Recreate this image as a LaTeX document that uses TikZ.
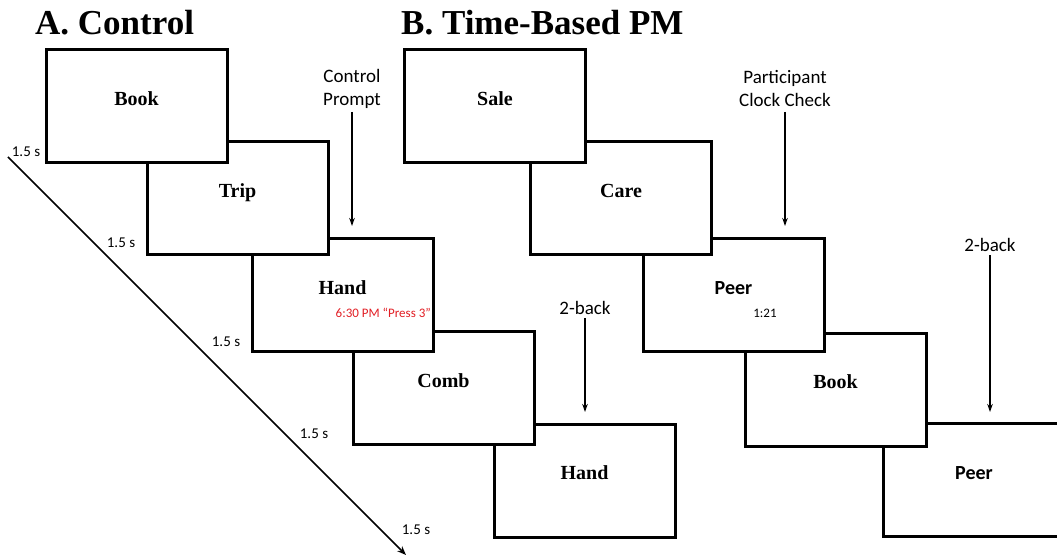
\documentclass[tikz,border=0pt]{standalone}
\usepackage{fontspec}
\setmainfont{Liberation Serif}
\newfontfamily\calibri{Carlito}
\usetikzlibrary{arrows.meta,shadows}
\definecolor{promptred}{RGB}{226,30,36}
\tikzset{
  frame/.style={draw,line width=3pt,fill=white,inner sep=0pt,minimum width=181pt,minimum height=113pt,
    drop shadow={shadow xshift=1.5pt,shadow yshift=-1.5pt,opacity=0.3}},
  word/.style={anchor=base,inner sep=0pt,font=\bfseries\fontsize{20}{20}\selectfont},
  sword/.style={anchor=base,inner sep=0pt,font=\calibri\bfseries\fontsize{20}{20}\selectfont},
  heading/.style={anchor=base west,inner sep=0pt,font=\bfseries\fontsize{35}{35}\selectfont},
  cue/.style={anchor=south,inner sep=0pt,align=center,font=\calibri\fontsize{19}{23}\selectfont},
  dur/.style={inner sep=0pt,font=\calibri\fontsize{15}{15}\selectfont},
  small/.style={inner sep=0pt,font=\calibri\fontsize{13}{13}\selectfont},
  cuearrow/.style={-{Stealth[length=8pt,width=5.5pt]},line width=1.5pt},
}
\begin{document}
\begin{tikzpicture}[x=1pt,y=-1pt]
\useasboundingbox (0,0) rectangle (1057,556);
% titles
\node[heading] (titleA) at (35,35) {A. Control};
\node[heading] (titleB) at (401,35) {B. Time-Based PM};
% A: control trials, back to front
\node[frame] (a5) at (584.5,480.5) {};
\node[word] (a5w) at ([yshift=1pt]a5.center) {Hand};
\node[frame] (a4) at (443.5,388) {};
\node[word] (a4w) at ([yshift=1pt]a4.center) {Comb};
\node[frame] (a3) at (342.5,295) {};
\node[word] (a3w) at ([yshift=1pt]a3.center) {Hand};
\node[small,anchor=base east,text=promptred] (a3t) at ([xshift=-3.5pt,yshift=-22pt]a3.east) {6:30 PM “Press 3”};
\node[frame] (a2) at (237.5,198) {};
\node[word] (a2w) at ([yshift=1pt]a2.center) {Trip};
\node[frame] (a1) at (136.5,106.5) {};
\node[word] (a1w) at ([yshift=1pt]a1.center) {Book};
% B: time-based PM trials
\node[frame] (b5) at (974,480) {};
\node[sword] (b5w) at ([yshift=1pt]b5.center) {Peer};
\node[frame] (b4) at (835.5,389.5) {};
\node[word] (b4w) at ([yshift=1pt]b4.center) {Book};
\node[frame] (b3) at (733.5,295) {};
\node[sword] (b3w) at ([yshift=1pt]b3.center) {Peer};
\node[small,anchor=base] (b3t) at ([xshift=31.5pt,yshift=-22pt]b3.center) {1:21};
\node[frame] (b2) at (621,198) {};
\node[word] (b2w) at ([yshift=1pt]b2.center) {Care};
\node[frame] (b1) at (495,106.5) {};
\node[word] (b1w) at ([yshift=1pt]b1.center) {Sale};
% cues
\node[cue] (prompt) at (352,109) {Control\\Prompt};
\draw[cuearrow] ([yshift=-3pt]prompt.south) -- ([yshift=11pt]prompt.south |- a3.north);
\node[cue] (clock) at (785,107) {Participant\\Clock Check};
\draw[cuearrow] ([yshift=-5pt]clock.south) -- ([yshift=11pt]clock.south |- b3.north);
\node[cue] (backA) at (585,315) {2-back};
\draw[cuearrow] ([yshift=-3pt]backA.south) -- ([yshift=10.5pt]backA.south |- a5.north);
\node[cue] (backB) at (990,252) {2-back};
\draw[cuearrow] ([yshift=-3pt]backB.south) -- ([yshift=10pt]backB.south |- b5.north);
% time line
\coordinate (t0) at (8,157);
\coordinate (t1) at (406,555);
\draw[-{Stealth[length=9pt,width=7pt]},line width=1.5pt] (t0) -- (t1);
\node[dur] (d1) at (26,152) {1.5 s};
\node[dur] (d2) at (121,243) {1.5 s};
\node[dur] (d3) at (226,342) {1.5 s};
\node[dur] (d4) at (314,434) {1.5 s};
\node[dur] (d5) at (416,530) {1.5 s};
\end{tikzpicture}
\end{document}
